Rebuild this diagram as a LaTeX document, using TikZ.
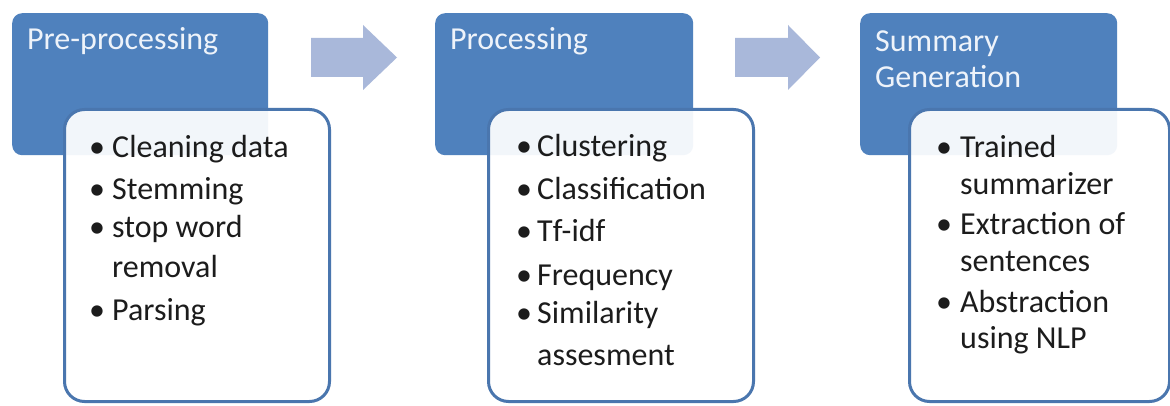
\documentclass[tikz,border=0pt]{standalone}
\usepackage{fontspec}
\setmainfont{Carlito}
\definecolor{boxblue}{HTML}{4F81BD}
\definecolor{edgeblue}{HTML}{4A76AE}
\definecolor{arrowblue}{HTML}{A9B8DA}
\definecolor{titletext}{HTML}{EEF3FA}
\definecolor{bodytext}{HTML}{1C1C1C}
\begin{document}
\begin{tikzpicture}[x=1pt,y=-1pt,
  bluebox/.style={fill=boxblue, draw=none, rounded corners=10pt, anchor=north west, inner sep=0pt},
  whitebox/.style={fill=white, fill opacity=0.93, draw=edgeblue, line width=3pt, rounded corners=20pt, anchor=north west, inner sep=0pt},
  titletxt/.style={text=titletext, font=\fontsize{32}{36}\selectfont, anchor=base west, inner sep=0pt},
  itemtxt/.style={text=bodytext, font=\fontsize{32}{38}\selectfont, anchor=base west, inner sep=0pt},
  bul/.style={text=bodytext, font=\fontsize{32}{38}\selectfont, anchor=base, inner sep=0pt},
  blockarrow/.style={fill=arrowblue, draw=none}]
\useasboundingbox (0,0) rectangle (1170,406);
\fill[white] (0,0) rectangle (1170,406);

% block arrows
\fill[blockarrow] (311,38) -- (363,38) -- (363,25) -- (397,57.5) -- (363,90) -- (363,77) -- (311,77) -- cycle;
\fill[blockarrow] (735,38) -- (788,38) -- (788,25) -- (820,57.5) -- (788,90) -- (788,77) -- (735,77) -- cycle;

% stage 1
\node[bluebox, minimum width=256pt, minimum height=142pt] (s1) at (12,13) {};
\node[titletxt] (t1) at (27,50) {Pre-processing};
\node[whitebox, minimum width=265pt, minimum height=292pt] (w1) at (63,108) {};
\node[bul] (b1a) at (97,158) {•};
\node[itemtxt] (i1a) at (112,158) {Cleaning data};
\node[bul] (b1b) at (97,200) {•};
\node[itemtxt] (i1b) at (112,200) {Stemming};
\node[bul] (b1c) at (97,238) {•};
\node[itemtxt] (i1c) at (112,238) {stop word};
\node[itemtxt] (i1d) at (112,277) {removal};
\node[bul] (b1e) at (97,320) {•};
\node[itemtxt] (i1e) at (112,320) {Parsing};

% stage 2
\node[bluebox, minimum width=258pt, minimum height=142pt] (s2) at (435,13) {};
\node[titletxt] (t2) at (450,50) {Processing};
\node[whitebox, minimum width=265pt, minimum height=292pt] (w2) at (487,108) {};
\node[bul] (b2a) at (524,157) {•};
\node[itemtxt] (i2a) at (537,157) {Clustering};
\node[bul] (b2b) at (524,200) {•};
\node[itemtxt] (i2b) at (537,200) {Classification};
\node[bul] (b2c) at (524,242) {•};
\node[itemtxt] (i2c) at (537,242) {Tf-idf};
\node[bul] (b2d) at (524,285) {•};
\node[itemtxt] (i2d) at (537,285) {Frequency};
\node[bul] (b2e) at (524,323) {•};
\node[itemtxt] (i2e) at (537,323) {Similarity};
\node[itemtxt] (i2f) at (537,365) {assesment};

% stage 3
\node[bluebox, minimum width=257pt, minimum height=142pt] (s3) at (860,13) {};
\node[titletxt] (t3a) at (875,52) {Summary};
\node[titletxt] (t3b) at (875,88) {Generation};
\node[whitebox, minimum width=260pt, minimum height=292pt] (w3) at (908,108) {};
\node[bul] (b3a) at (944,158) {•};
\node[itemtxt] (i3a) at (960,158) {Trained};
\node[itemtxt] (i3b) at (960,195) {summarizer};
\node[bul] (b3c) at (944,235) {•};
\node[itemtxt] (i3c) at (960,235) {Extraction of};
\node[itemtxt] (i3d) at (960,272) {sentences};
\node[bul] (b3e) at (944,312) {•};
\node[itemtxt] (i3e) at (960,312) {Abstraction};
\node[itemtxt] (i3f) at (960,348) {using NLP};
\end{tikzpicture}
\end{document}
